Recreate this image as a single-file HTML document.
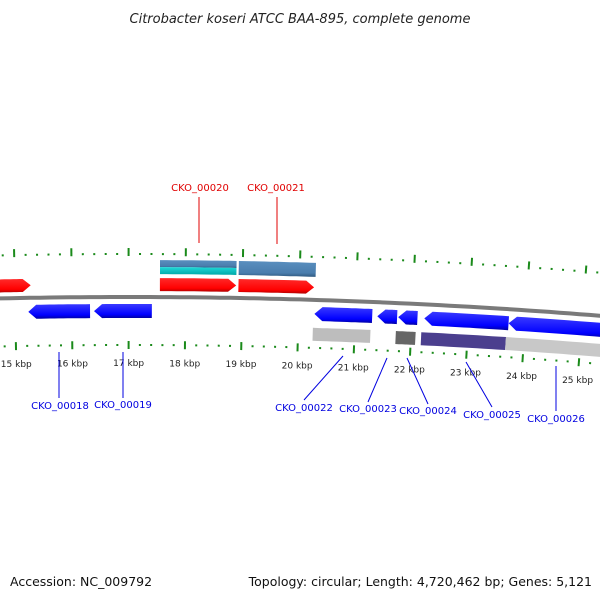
<!DOCTYPE html>
<html><head><meta charset="utf-8">
<style>
html,body{margin:0;padding:0;background:#fff;}
svg{display:block;font-family:"DejaVu Sans","Liberation Sans",sans-serif;}
</style></head>
<body>
<svg id="map" width="600" height="600" viewBox="0 0 600 600">
<defs>
<linearGradient id="gRed" x1="0" y1="0" x2="0" y2="1"><stop offset="0" stop-color="#ff2a2a"/><stop offset="0.75" stop-color="#ff0000"/><stop offset="1" stop-color="#b00000"/></linearGradient>
<linearGradient id="gBlue" x1="0" y1="0" x2="0" y2="1"><stop offset="0" stop-color="#3a3aff"/><stop offset="0.75" stop-color="#0000ff"/><stop offset="1" stop-color="#0000a0"/></linearGradient>
<linearGradient id="gSteel" x1="0" y1="0" x2="0" y2="1"><stop offset="0" stop-color="#5a8fbf"/><stop offset="0.75" stop-color="#4a7dad"/><stop offset="1" stop-color="#2f5a80"/></linearGradient>
<linearGradient id="gCyan" x1="0" y1="0" x2="0" y2="1"><stop offset="0" stop-color="#20d8d8"/><stop offset="1" stop-color="#00a8a8"/></linearGradient>
</defs>
<text x="300" y="23" text-anchor="middle" font-size="13" font-style="italic" fill="#222">Citrobacter koseri ATCC BAA-895, complete genome</text>
<g id="layer"></g>
<text x="10" y="586" font-size="12.5" fill="#111">Accession: NC_009792</text>
<text x="592" y="586" text-anchor="end" font-size="12.5" fill="#111">Topology: circular; Length: 4,720,462 bp; Genes: 5,121</text>
</svg>
<script>
const forwardGenes = [[14.5,15.28],[17.55,18.89],[18.93,20.26]];
const reverseGenes = [[15.23,16.32],[16.39,17.41],[20.28,21.30],[21.39,21.74],[21.76,22.10],[22.22,23.71],[23.71,25.7]];
const grayBars = [[20.26,21.28],[21.73,22.08],[22.18,23.68],[23.68,25.7]];
const grayColors = ['#bdbdbd','#666666','#4b3f8e','#c8c8c8'];
const topBars = [[17.55,18.89],[18.93,20.28]];
const tickKbp = [15,16,17,18,19,20,21,22,23,24,25];
const tickLabels = ['15 kbp','16 kbp','17 kbp','18 kbp','19 kbp','20 kbp','21 kbp','22 kbp','23 kbp','24 kbp','25 kbp'];

const NS='http://www.w3.org/2000/svg';
const layer=document.getElementById('layer');
const R=5900, CX=130, APEX=297, CY=APEX+R;
function xOf(kb){return 15+(kb-15)*56.8;}
function pt(x,h){const t=(x-CX)/R, r=R+h;return [CX+r*Math.sin(t), CY-r*Math.cos(t)];}
function mk(tag,attrs){const e=document.createElementNS(NS,tag);for(const k in attrs)e.setAttribute(k,attrs[k]);layer.appendChild(e);return e;}
function arcPoly(x1,x2,h1,h2,dir){
  const tip=8, hm=(h1+h2)/2, pts=[];
  let a=x1,b=x2;
  if(dir===1)b=Math.max(x1,x2-tip);
  if(dir===-1)a=Math.min(x2,x1+tip);
  const n=12;
  for(let i=0;i<=n;i++)pts.push(pt(a+(b-a)*i/n,h2));
  if(dir===1)pts.push(pt(x2,hm));
  for(let i=n;i>=0;i--)pts.push(pt(a+(b-a)*i/n,h1));
  if(dir===-1)pts.push(pt(x1,hm));
  return pts.map(p=>p[0].toFixed(1)+','+p[1].toFixed(1)).join(' ');
}
(function(){const p=[];for(let x=-20;x<=620;x+=10){const q=pt(x,0);p.push(q[0].toFixed(1)+','+q[1].toFixed(1));}
const e=mk('polyline',{points:p.join(' '),fill:'none',stroke:'#7a7a7a','stroke-width':4});

})();
for(let k=14;k<=26;k+=0.2){
  const kb=Math.round(k*10)/10, x=xOf(kb), major=Math.abs(kb-Math.round(kb))<0.01;
  [[major?41:42,major?49:44],[major?-44:-47,major?-52:-49]].forEach(([h1,h2],i)=>{
    const a=pt(x,h1),b=pt(x,h2);
    const e=mk('line',{x1:a[0],y1:a[1],x2:b[0],y2:b[1],stroke:'#1a8a1a','stroke-width':2});
    
    
  });
}
tickKbp.forEach((kb,i)=>{
  const p=pt(xOf(kb),-65);
  const e=mk('text',{x:p[0],y:p[1]+4,'font-size':9,'text-anchor':'middle',fill:'#222'});
  e.textContent=tickLabels[i];
  
  
});
topBars.forEach((g,i)=>{
  if(i===0){
    let e=mk('polygon',{points:arcPoly(xOf(g[0]),xOf(g[1]),30,37,0),fill:'url(#gSteel)'});
    
    
    e=mk('polygon',{points:arcPoly(xOf(g[0]),xOf(g[1]),23,30,0),fill:'url(#gCyan)'});
    
    
  } else {
    const e=mk('polygon',{points:arcPoly(xOf(g[0]),xOf(g[1]),23,37,0),fill:'url(#gSteel)'});
    
    
  }
});
forwardGenes.forEach(g=>{
  const e=mk('polygon',{points:arcPoly(xOf(g[0]),xOf(g[1]),6,19,1),fill:'url(#gRed)'});
  
  
});
reverseGenes.forEach(g=>{
  const e=mk('polygon',{points:arcPoly(xOf(g[0]),xOf(g[1]),-21,-7,-1),fill:'url(#gBlue)'});
  
  
});
grayBars.forEach((g,i)=>{
  const e=mk('polygon',{points:arcPoly(xOf(g[0]),xOf(g[1]),-41,-28,0),fill:grayColors[i]});
  
  
});
const labels=[
 ['CKO_00020',200,191,199,197,199,243,'#e00000'],
 ['CKO_00021',276,191,277,197,277,244,'#e00000'],
 ['CKO_00018',60,409,59,352,59,398,'#0000e0'],
 ['CKO_00019',123,408,123,352,123,398,'#0000e0'],
 ['CKO_00022',304,411,343,356,304,400,'#0000e0'],
 ['CKO_00023',368,412,387,358,368,402,'#0000e0'],
 ['CKO_00024',428,414,407,358,428,404,'#0000e0'],
 ['CKO_00025',492,418,466,362,492,407,'#0000e0'],
 ['CKO_00026',556,422,556,366,556,411,'#0000e0']];
labels.forEach(l=>{
  const ln=mk('line',{x1:l[3],y1:l[4],x2:l[5],y2:l[6],stroke:l[7],'stroke-width':1});
  
  
  const t=mk('text',{x:l[1],y:l[2],'font-size':10,'text-anchor':'middle',fill:l[7]});
  t.textContent=l[0];
  
  
});
</script>
</body></html>
